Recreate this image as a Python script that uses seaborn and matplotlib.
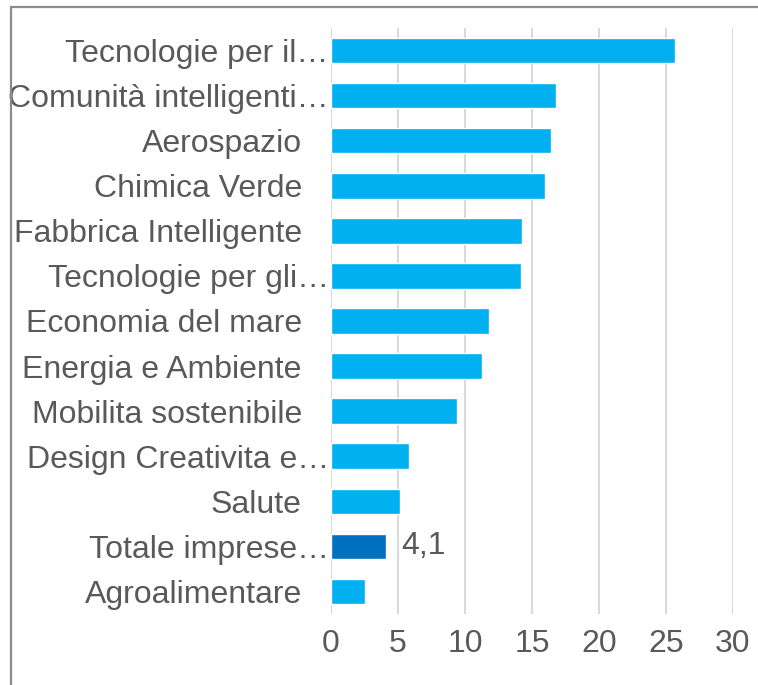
import matplotlib
matplotlib.use("Agg")
import matplotlib.pyplot as plt
import matplotlib.transforms as mtransforms
from matplotlib.patches import Rectangle
import seaborn as sns

CATEGORIES = [
    "Tecnologie per il…",
    "Comunità intelligenti…",
    "Aerospazio",
    "Chimica Verde",
    "Fabbrica Intelligente",
    "Tecnologie per gli…",
    "Economia del mare",
    "Energia e Ambiente",
    "Mobilita sostenibile",
    "Design Creativita e…",
    "Salute",
    "Totale imprese…",
    "Agroalimentare",
]
VALUES = [25.7, 16.8, 16.4, 16.0, 14.25, 14.2, 11.8, 11.3, 9.4, 5.85, 5.15, 4.1, 2.55]
HIGHLIGHT = "Totale imprese…"
HIGHLIGHT_LABEL = "4,1"
XTICKS = [0, 5, 10, 15, 20, 25, 30]

BAR_COLOR = "#00B0F0"
HIGHLIGHT_COLOR = "#0070C0"
TEXT_COLOR = "#595959"
GRID_COLOR = "#D9D9D9"
FS = 23

sns.set_style("white")
plt.rcParams["font.family"] = ["Liberation Sans", "DejaVu Sans"]

W, H = 758, 685
fig = plt.figure(figsize=(W / 100, H / 100), dpi=100)
ax = fig.add_axes([331 / W, 1 - 614 / H, 402 / W, 586 / H])

palette = [HIGHLIGHT_COLOR if c == HIGHLIGHT else BAR_COLOR for c in CATEGORIES]
sns.barplot(x=VALUES, y=CATEGORIES, hue=CATEGORIES, palette=palette,
            orient="h", width=0.565, legend=False, saturation=1, ax=ax)

ax.set_xlim(0, 30)
ax.set_xticks(XTICKS)
ax.set_xticklabels([str(t) for t in XTICKS])
ax.xaxis.grid(True, color=GRID_COLOR, linewidth=1.5)
ax.set_axisbelow(True)
for s in ax.spines.values():
    s.set_visible(False)
ax.set_xlabel("")
ax.set_ylabel("")
ax.tick_params(axis="y", length=0, pad=21, labelsize=FS, labelcolor=TEXT_COLOR)
ax.tick_params(axis="x", length=0, pad=11, labelsize=FS, labelcolor=TEXT_COLOR)

# truncated labels run right up to the axis
shift = mtransforms.ScaledTranslation(27 / 100, 0, fig.dpi_scale_trans)
for lab in ax.get_yticklabels():
    if lab.get_text().endswith("…"):
        lab.set_transform(lab.get_transform() + shift)

# data label only on the highlighted bar (one container per hue level)
for cont, cat in zip(ax.containers, CATEGORIES):
    if cat == HIGHLIGHT:
        ax.bar_label(cont, labels=[HIGHLIGHT_LABEL], padding=11, fontsize=FS,
                     color=TEXT_COLOR)

# chart frame
fig.patches.append(Rectangle((11 / W, -0.1), 1.2, 1.1 - 7 / H, transform=fig.transFigure,
                             fill=False, edgecolor="#8C8C8C", linewidth=1.6))

fig.savefig("out.png", dpi=100)
